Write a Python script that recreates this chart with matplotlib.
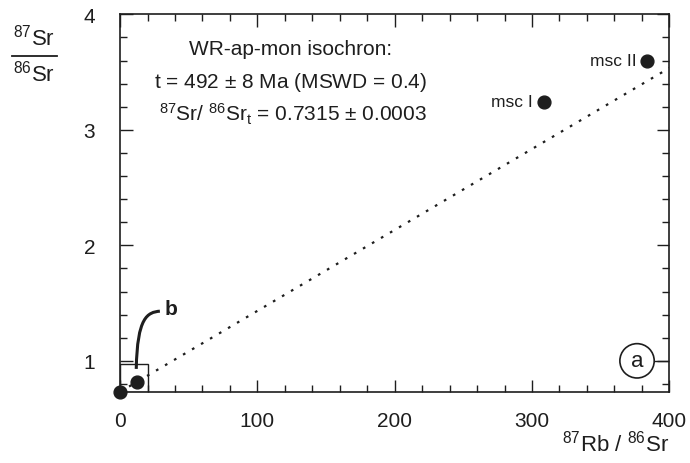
import matplotlib.pyplot as plt
from matplotlib.lines import Line2D
from matplotlib.path import Path
from matplotlib.patches import PathPatch, Rectangle
from matplotlib.ticker import MultipleLocator

plt.rcParams['font.family'] = ['Liberation Sans', 'DejaVu Sans']
plt.rcParams['mathtext.fontset'] = 'custom'
plt.rcParams['mathtext.rm'] = 'Liberation Sans'
plt.rcParams['mathtext.it'] = 'Liberation Sans:italic'
plt.rcParams['mathtext.bf'] = 'Liberation Sans:bold'

INK = '#1e1e1e'

# data
rb_sr = [0.0, 12.4, 309.0, 384.0]
sr_sr = [0.7315, 0.82, 3.245, 3.60]
point_labels = ['', '', 'msc I', 'msc II']

iso_x = [0.0, 400.0]
iso_y = [0.7315, 3.535]

x_ticks = [0, 100, 200, 300, 400]
y_ticks = [1, 2, 3, 4]

fig = plt.figure(figsize=(6.9, 4.64), dpi=100)
ax = fig.add_axes([0.174, 0.153, 0.796, 0.814])

ax.plot(iso_x, iso_y, linestyle=(0, (1.2, 3.5)), color=INK, lw=1.6)
ax.scatter(rb_sr, sr_sr, s=85, color=INK, zorder=5, clip_on=False)

for x, y, lab in zip(rb_sr, sr_sr, point_labels):
    if lab:
        ax.annotate(lab, (x, y), xytext=(-8, 0), textcoords='offset points',
                    ha='right', va='center', fontsize=12.5, color=INK)

# zoom box for panel b
ax.add_patch(Rectangle((0, 0.73), 20.5, 0.24, fill=False, ec=INK, lw=1.0))
verts = [(11.8, 0.93), (12.5, 1.38), (20, 1.42), (29, 1.43)]
codes = [Path.MOVETO, Path.CURVE4, Path.CURVE4, Path.CURVE4]
ax.add_patch(PathPatch(Path(verts, codes), fill=False, ec=INK, lw=2.2))
ax.text(37, 1.45, 'b', fontsize=15, fontweight='bold', ha='center', va='center', color=INK)

# panel label a
ax.text(376.5, 1.0, 'a', fontsize=16, ha='center', va='center', color=INK,
        bbox=dict(boxstyle='circle,pad=0.3', fc='white', ec=INK, lw=1.2))
ax.plot([389, 400], [1.0, 1.0], color=INK, lw=1.0)

# isochron text
ax.text(124, 3.70, 'WR-ap-mon isochron:', fontsize=15, ha='center', va='center', color=INK)
ax.text(124, 3.42, r't = 492 $\pm$ 8 Ma (MSWD = 0.4)', fontsize=15, ha='center', va='center', color=INK)
ax.text(126, 3.14, r'$^{87}$Sr/ $^{86}$Sr$_\mathrm{t}$ = 0.7315 $\pm$ 0.0003', fontsize=15,
        ha='center', va='center', color=INK)

ax.set_xlim(0, 400)
ax.set_ylim(0.73, 4.0)
ax.set_xticks(x_ticks)
ax.set_yticks(y_ticks)
ax.xaxis.set_minor_locator(MultipleLocator(20))
ax.yaxis.set_minor_locator(MultipleLocator(0.2))
ax.tick_params(which='both', direction='in', top=True, right=True, colors=INK,
               labelsize=15, width=1.0)
ax.tick_params(which='major', length=9)
ax.tick_params(which='minor', length=5)
ax.tick_params(axis='x', pad=14)
ax.tick_params(axis='y', pad=18)
for sp in ax.spines.values():
    sp.set_color(INK)
    sp.set_linewidth(1.2)

# axis labels
fig.text(0.970, 0.045, r'$^{87}$Rb / $^{86}$Sr', fontsize=16, ha='right', va='center', color=INK)
fig.text(0.050, 0.918, r'$^{87}$Sr', fontsize=16, ha='center', va='center', color=INK)
fig.text(0.050, 0.842, r'$^{86}$Sr', fontsize=16, ha='center', va='center', color=INK)
fig.add_artist(Line2D([0.018, 0.082], [0.877, 0.877], color=INK, lw=1.3))

fig.savefig('out.png', dpi=100)
